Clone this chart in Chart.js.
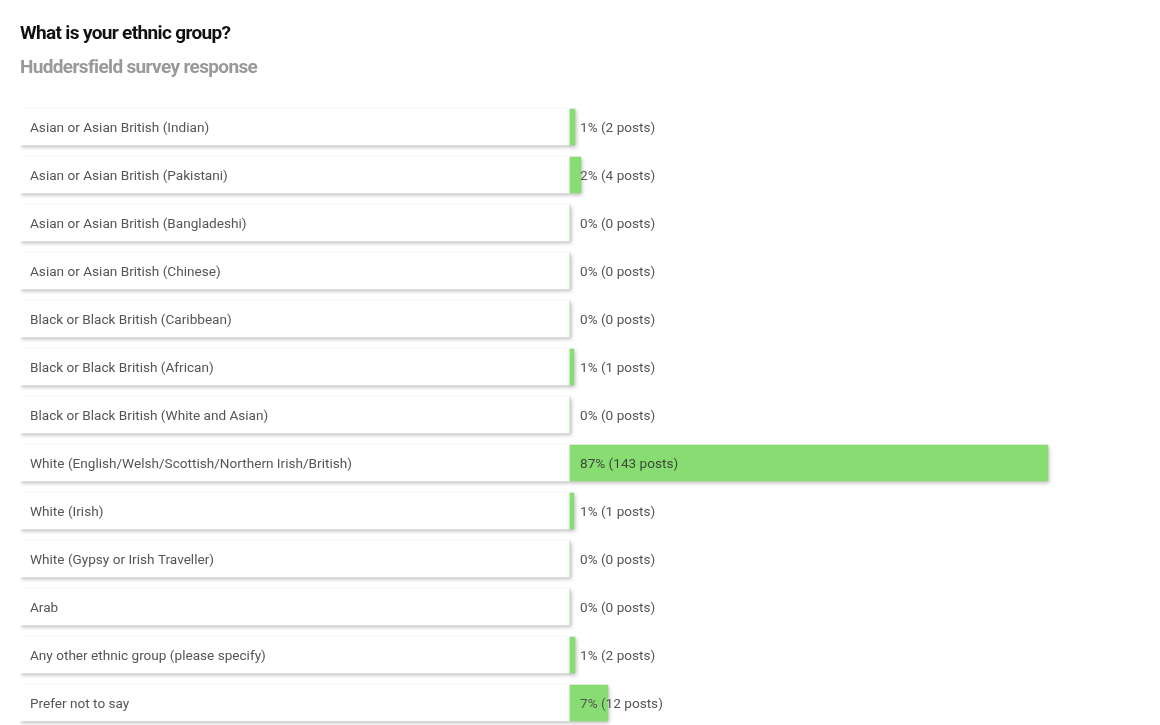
<!DOCTYPE html>
<html><head><meta charset="utf-8">
<script src="https://cdn.jsdelivr.net/npm/chart.js@4"></script>
<style>html,body{margin:0;padding:0;background:#fff;overflow:hidden}
#wrap{width:1160px;height:760px;position:relative}</style></head>
<body><div id="wrap"><canvas id="c" width="1160" height="760"></canvas></div>
<script>
const chartTitle = "What is your ethnic group?";
const chartSubtitle = "Huddersfield survey response";
const categories = [
  "Asian or Asian British (Indian)",
  "Asian or Asian British (Pakistani)",
  "Asian or Asian British (Bangladeshi)",
  "Asian or Asian British (Chinese)",
  "Black or Black British (Caribbean)",
  "Black or Black British (African)",
  "Black or Black British (White and Asian)",
  "White (English/Welsh/Scottish/Northern Irish/British)",
  "White (Irish)",
  "White (Gypsy or Irish Traveller)",
  "Arab",
  "Any other ethnic group (please specify)",
  "Prefer not to say"
];
const barPercent = [0.9, 2.0, 0, 0, 0, 0.7, 0, 86.9, 0.7, 0, 0, 0.9, 6.9];
const shownPercent = [1, 2, 0, 0, 0, 1, 0, 87, 1, 0, 0, 1, 7];
const posts = [2, 4, 0, 0, 0, 1, 0, 143, 1, 0, 0, 2, 12];

const FONT = "Roboto";

// tighter letter spacing for the title/subtitle (condensed look)
const spacingPlugin = {
  id: 'titleSpacing',
  beforeDraw(chart) { chart.ctx.letterSpacing = '-0.65px'; },
  beforeDatasetsDraw(chart) { chart.ctx.letterSpacing = '0px'; }
};

const shadowPlugin = {
  id: 'shadow',
  beforeDatasetDraw(chart) {
    const ctx = chart.ctx;
    ctx.save();
    ctx.shadowColor = 'rgba(0,0,0,0.28)';
    ctx.shadowBlur = 4;
    ctx.shadowOffsetX = 1;
    ctx.shadowOffsetY = 2;
  },
  afterDatasetDraw(chart) { chart.ctx.restore(); }
};

const textPlugin = {
  id: 'rowText',
  afterDatasetsDraw(chart) {
    const ctx = chart.ctx;
    const boxMeta = chart.getDatasetMeta(1);
    const x0 = chart.scales.x.getPixelForValue(0);
    const xl = chart.scales.x.getPixelForValue(-100);
    ctx.save();
    ctx.letterSpacing = '0px';
    ctx.textBaseline = 'middle';
    ctx.textAlign = 'left';
    ctx.font = "13.6px " + FONT;
    boxMeta.data.forEach((el, i) => {
      const y = el.y + 1.5;
      ctx.fillStyle = '#555';
      ctx.fillText(categories[i], xl + 10, y);
      ctx.fillStyle = barPercent[i] > 10 ? '#3d4a3a' : '#555';
      ctx.fillText(shownPercent[i] + "% (" + posts[i] + " posts)", x0 + 10, y);
    });
    ctx.restore();
  }
};

new Chart(document.getElementById('c'), {
  type: 'bar',
  data: {
    labels: categories,
    datasets: [
      {
        data: barPercent,
        backgroundColor: '#88dd72',
        barThickness: 36,
        grouped: false,
        borderWidth: 0
      },
      {
        data: categories.map(() => [-100, 0]),
        backgroundColor: '#ffffff',
        barThickness: 36,
        grouped: false,
        borderWidth: 0
      }
    ]
  },
  options: {
    indexAxis: 'y',
    responsive: false,
    animation: false,
    layout: { padding: { left: 20, right: 40, top: 0, bottom: 33 } },
    plugins: {
      legend: { display: false },
      tooltip: { enabled: false },
      title: {
        display: true, text: chartTitle, align: 'start', color: '#111',
        font: { family: FONT, size: 19, weight: 'bold', lineHeight: '24px' },
        padding: { top: 22, bottom: 0 }
      },
      subtitle: {
        display: true, text: chartSubtitle, align: 'start', color: '#999',
        font: { family: FONT, size: 19, weight: 'bold', lineHeight: '24px' },
        padding: { top: 10, bottom: 23 }
      }
    },
    scales: {
      x: { display: false, min: -100, max: 100 },
      y: { display: false }
    }
  },
  plugins: [spacingPlugin, shadowPlugin, textPlugin]
});
</script></body></html>
